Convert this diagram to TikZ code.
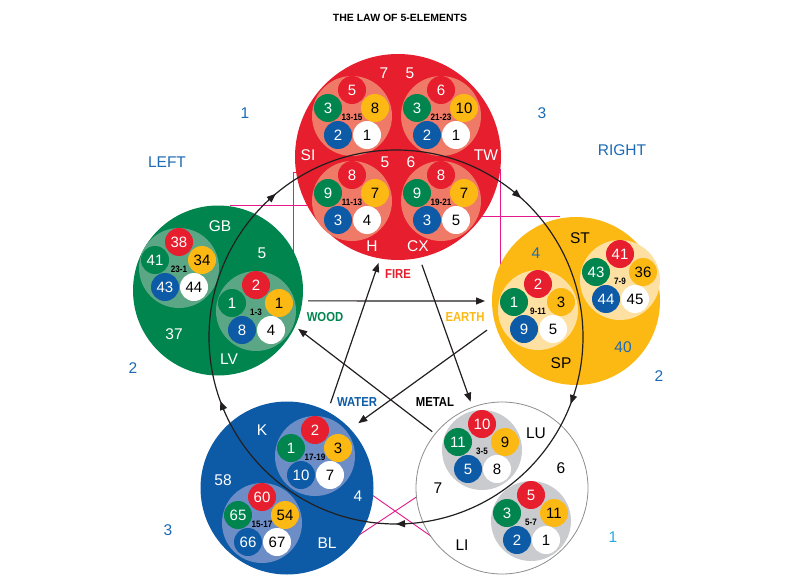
\documentclass[tikz,border=0pt]{standalone}
\usepackage{fontspec}
\setmainfont{Liberation Sans}
\newfontfamily\cond[FakeStretch=0.87]{Liberation Sans}
\usetikzlibrary{arrows.meta,calc}
\definecolor{cred}{HTML}{E61E2D}
\definecolor{cfirel}{HTML}{F07A68}
\definecolor{cgreen}{HTML}{00854F}
\definecolor{cwoodl}{HTML}{5BA684}
\definecolor{cyel}{HTML}{FDB913}
\definecolor{cearthl}{HTML}{FEE0A2}
\definecolor{cblue}{HTML}{0D5BA6}
\definecolor{cwaterl}{HTML}{6D8DC6}
\definecolor{cmetall}{HTML}{C9CBCE}
\definecolor{cmetalo}{HTML}{8E8E8E}
\definecolor{cmag}{HTML}{E6198A}
\definecolor{clab}{HTML}{1C6AB4}
\definecolor{ccyan}{HTML}{2AA8E0}
\definecolor{cline}{HTML}{231F20}
\tikzset{
  sc/.style={circle, minimum size=28pt, inner sep=0pt, outer sep=0pt, font=\fontsize{15}{15}\selectfont},
  rng/.style={inner sep=0pt, font=\cond\bfseries\fontsize{9.3}{9.3}\selectfont},
  big/.style={circle, inner sep=0pt, outer sep=0pt},
  lbl/.style={inner sep=0pt, font=\fontsize{15.5}{15.5}\selectfont},
  wl/.style={lbl, text=white},
  bl/.style={lbl, text=black},
  olbl/.style={lbl, text=clab},
  el/.style={inner sep=0pt, font=\cond\bfseries\fontsize{13}{13}\selectfont},
  mag/.style={draw=cmag, line width=0.9pt},
  arr/.style={draw=cline, line width=1.2pt, -{Triangle[length=9pt,width=7pt]}},
  cyca/.style={draw=cline, line width=1.2pt, -{Triangle[length=9pt,width=7pt]}},
  pics/grp/.style n args={7}{code={
    \node[big, fill=#1, minimum size=80pt] (-bg) at (0,0) {};
    \node[sc, fill=cgreen, text=white] (-g) at (-24,-8) {#3};
    \node[sc, fill=cred, text=white] (-r) at (0,-26) {#2};
    \node[sc, fill=cyel, text=black] (-y) at (23,-8) {#4};
    \node[sc, fill=cblue, text=white] (-b) at (-14,19) {#5};
    \node[sc, fill=white, text=black] (-w) at (15,19) {#6};
    \node[rng] (-l) at (0,1) {#7};
  }}
}
\begin{document}
\begin{tikzpicture}[x=1pt,y=-1pt]
\fill[white] (0,0) rectangle (800,583);
\useasboundingbox (0,0) rectangle (800,583);

% magenta guide lines (behind)
\draw[mag] (230,205) -- (320,205);
\draw[mag] (310,172) -- (293,172) -- (293,262);
\draw[mag] (490,169) -- (500,169) -- (500,280);
\draw[mag] (480,216) -- (560,216);
\draw[mag] (365,490) -- (445,546);
\draw[mag] (350,541) -- (430,488);

% element circles
\node[big, fill=cred, minimum size=206pt] (fire) at (398,157) {};
\node[big, fill=cgreen, minimum size=170pt] (wood) at (218,290.5) {};
\node[big, fill=cyel, minimum size=168pt] (earth) at (576,301) {};
\node[big, fill=cblue, minimum size=173pt] (water) at (287,488) {};
\node[big, fill=white, draw=cmetalo, line width=0.8pt, minimum size=172pt] (metal) at (502,488) {};

% groups
\pic (fA) at (352,116) {grp={cfirel}{5}{3}{8}{2}{1}{13-15}};
\pic (fB) at (441,116) {grp={cfirel}{6}{3}{10}{2}{1}{21-23}};
\pic (fC) at (352,201) {grp={cfirel}{8}{9}{7}{3}{4}{11-13}};
\pic (fD) at (441,201) {grp={cfirel}{8}{9}{7}{3}{5}{19-21}};
\pic (wA) at (179,268) {grp={cwoodl}{38}{41}{34}{43}{44}{23-1}};
\pic (wB) at (256,311) {grp={cwoodl}{2}{1}{1}{8}{4}{1-3}};
\pic (eA) at (538,310) {grp={cearthl}{2}{1}{3}{9}{5}{9-11}};
\pic (eB) at (620,280) {grp={cearthl}{41}{43}{36}{44}{45}{7-9}};
\pic (aA) at (315,456) {grp={cwaterl}{2}{1}{3}{10}{7}{17-19}};
\pic (aB) at (262,523) {grp={cwaterl}{60}{65}{54}{66}{67}{15-17}};
\pic (mA) at (482,450) {grp={cmetall}{10}{11}{9}{5}{8}{3-5}};
\pic (mB) at (531,521) {grp={cmetall}{5}{3}{11}{2}{1}{5-7}};

% fire labels
\node[wl] (f7) at (384,73) {7};
\node[wl] (f5a) at (410,73) {5};
\node[wl] (fSI) at (308,155) {SI};
\node[wl] (fTW) at (486,155) {TW};
\node[wl] (f5b) at (385,162) {5};
\node[wl] (f6) at (411,162) {6};
\node[wl] (fH) at (372,246) {H};
\node[wl] (fCX) at (418,246) {CX};
% wood labels
\node[wl] (wGB) at (220,226) {GB};
\node[wl] (w5) at (262,253) {5};
\node[wl] (w37) at (174,334) {37};
\node[wl] (wLV) at (229,359) {LV};
% earth labels
\node[bl] (eST) at (580,238) {ST};
\node[olbl] (e4) at (536,253) {4};
\node[bl] (eSP) at (561,363) {SP};
\node[olbl] (e40) at (623,347) {40};
% water labels
\node[wl] (aK) at (262,430) {K};
\node[wl] (a58) at (223,480) {58};
\node[wl] (a4) at (358,496) {4};
\node[wl] (aBL) at (327,543) {BL};
% metal labels
\node[bl] (mLU) at (536,433) {LU};
\node[bl] (m6) at (561,468) {6};
\node[bl] (m7) at (438,488) {7};
\node[bl] (mLI) at (462,545) {LI};

% outer labels
\node[font=\bfseries\fontsize{10.5}{10.5}\selectfont, inner sep=0pt] (title) at (400,18) {THE LAW OF 5-ELEMENTS};
\node[olbl] (o1) at (245,113) {1};
\node[olbl] (o3) at (542,113) {3};
\node[olbl] (oL) at (167,162) {LEFT};
\node[olbl] (oR) at (622,150) {RIGHT};
\node[olbl] (o2a) at (133,368) {2};
\node[olbl] (o2b) at (659,376) {2};
\node[olbl] (o3b) at (168,530) {3};
\node[lbl, text=ccyan] (o1b) at (613,537) {1};

% element names
\node[el, text=cred] (nFire) at (398,274) {FIRE};
\node[el, text=cgreen] (nWood) at (325,317) {WOOD};
\node[el, text=cyel] (nEarth) at (465,317) {EARTH};
\node[el, text=cblue] (nWater) at (357,402) {WATER};
\node[el, text=black] (nMetal) at (435,402) {METAL};

% generating cycle
\node[big, draw=cline, line width=1.2pt, minimum size=374pt] (cyc) at (396,337) {};
\draw[cyca] (cyc.133) -- (cyc.130);
\draw[cyca] (cyc.51) -- (cyc.48);
\draw[cyca] (cyc.-18) -- (cyc.-21);
\draw[cyca] (cyc.-87) -- (cyc.-90);
\draw[cyca] (cyc.203) -- (cyc.200);

% controlling star
\draw[arr, shorten <=8.9pt, shorten >=4.8pt] (water.62) -- (fire.260);
\draw[arr, shorten <=7.5pt, shorten >=5.8pt] (fire.282) -- (metal.110);
\draw[arr, shorten <=5.7pt, shorten >=7pt] (wood.-7) -- (earth.180);
\draw[arr, shorten <=10.2pt, shorten >=9.9pt] (earth.196) -- (water.43);
\draw[arr, shorten <=3.7pt, shorten >=3.9pt] (metal.141) -- (wood.-25);
\end{tikzpicture}
\end{document}
